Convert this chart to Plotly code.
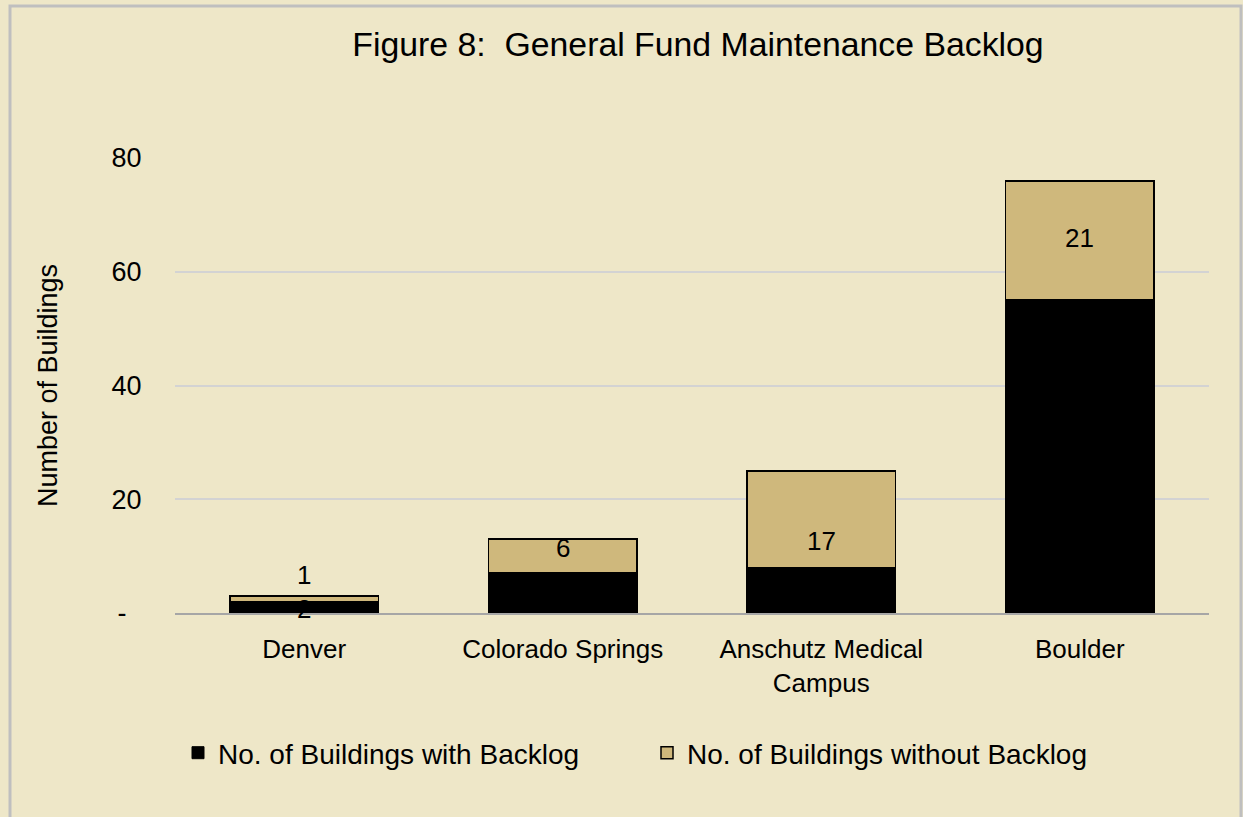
import plotly.graph_objects as go

categories = ["Denver", "Colorado Springs", "Anschutz Medical<br>Campus", "Boulder"]
with_backlog = [2, 7, 8, 55]
without_backlog = [1, 6, 17, 21]
series_names = ["No. of Buildings with Backlog", "No. of Buildings without Backlog"]
y_tick_vals = [0, 20, 40, 60, 80]
y_tick_text = ["-\u00a0\u00a0", "20", "40", "60", "80"]

BG = "#EEE7C8"
TAN = "#CFB87C"
FONT = "Liberation Sans, Arial, sans-serif"
FS = 27

fig = go.Figure()
fig.add_trace(go.Bar(x=categories, y=with_backlog, name=series_names[0],
                     marker=dict(color="#000000", line=dict(color="#000000", width=1))))
fig.add_trace(go.Bar(x=categories, y=without_backlog, name=series_names[1],
                     marker=dict(color=TAN, line=dict(color="#000000", width=1.5))))

# data labels (centered in segments, with Excel-like nudges)
black_shift = [-2, 0, 0, 0]
tan_shift = [24, 8, -22, 2]
for i, c in enumerate(categories):
    fig.add_annotation(x=c, y=with_backlog[i] / 2, text=str(with_backlog[i]), showarrow=False,
                       font=dict(size=26, color="#000000", family=FONT), yshift=black_shift[i])
    fig.add_annotation(x=c, y=with_backlog[i] + without_backlog[i] / 2, text=str(without_backlog[i]),
                       showarrow=False, font=dict(size=26, color="#000000", family=FONT), yshift=tan_shift[i])

fig.update_layout(
    width=1243, height=817,
    paper_bgcolor=BG, plot_bgcolor=BG,
    barmode="stack", bargap=0.424,
    margin=dict(l=175, r=34, t=158, b=204),
    font=dict(family=FONT, size=FS, color="#000000"),
    title=dict(text="Figure 8:  General Fund Maintenance Backlog", x=698 / 1243, xanchor="center",
               y=1 - 44 / 817, yanchor="middle", xref="container", yref="container",
               font=dict(size=33.8, color="#000000", family=FONT)),
    legend=dict(orientation="h", xref="container", yref="container", x=178 / 1243, xanchor="left",
                y=1 - 753 / 817, yanchor="middle", font=dict(size=28, color="#000000"),
                entrywidth=424, entrywidthmode="pixels", traceorder="normal", bgcolor="rgba(0,0,0,0)"),
    shapes=[dict(type="rect", xref="paper", yref="paper", x0=-165 / 1034, x1=1 + 32 / 1034,
                 y0=-215 / 455, y1=1 + 152 / 455, line=dict(color="#BFBFBF", width=3), layer="below")],
)
fig.update_xaxes(showgrid=False, showline=True, linecolor="#A6A6A6", linewidth=2,
                 ticks="outside", ticklen=12, tickcolor="rgba(0,0,0,0)",
                 tickfont=dict(size=26, color="#000000"))
fig.update_yaxes(range=[0, 80], tickvals=y_tick_vals, ticktext=y_tick_text,
                 showgrid=True, gridcolor="#D3D3D3", gridwidth=1.5, zeroline=False, showline=False,
                 ticks="outside", ticklen=27, tickcolor="rgba(0,0,0,0)",
                 tickfont=dict(size=FS, color="#000000"),
                 title=dict(text="Number of Buildings", font=dict(size=FS, color="#000000"), standoff=46))

fig.write_html("out.html", config={"displayModeBar": False},
               post_script="document.body.style.margin='0';document.body.style.background='#EEE7C8';")
